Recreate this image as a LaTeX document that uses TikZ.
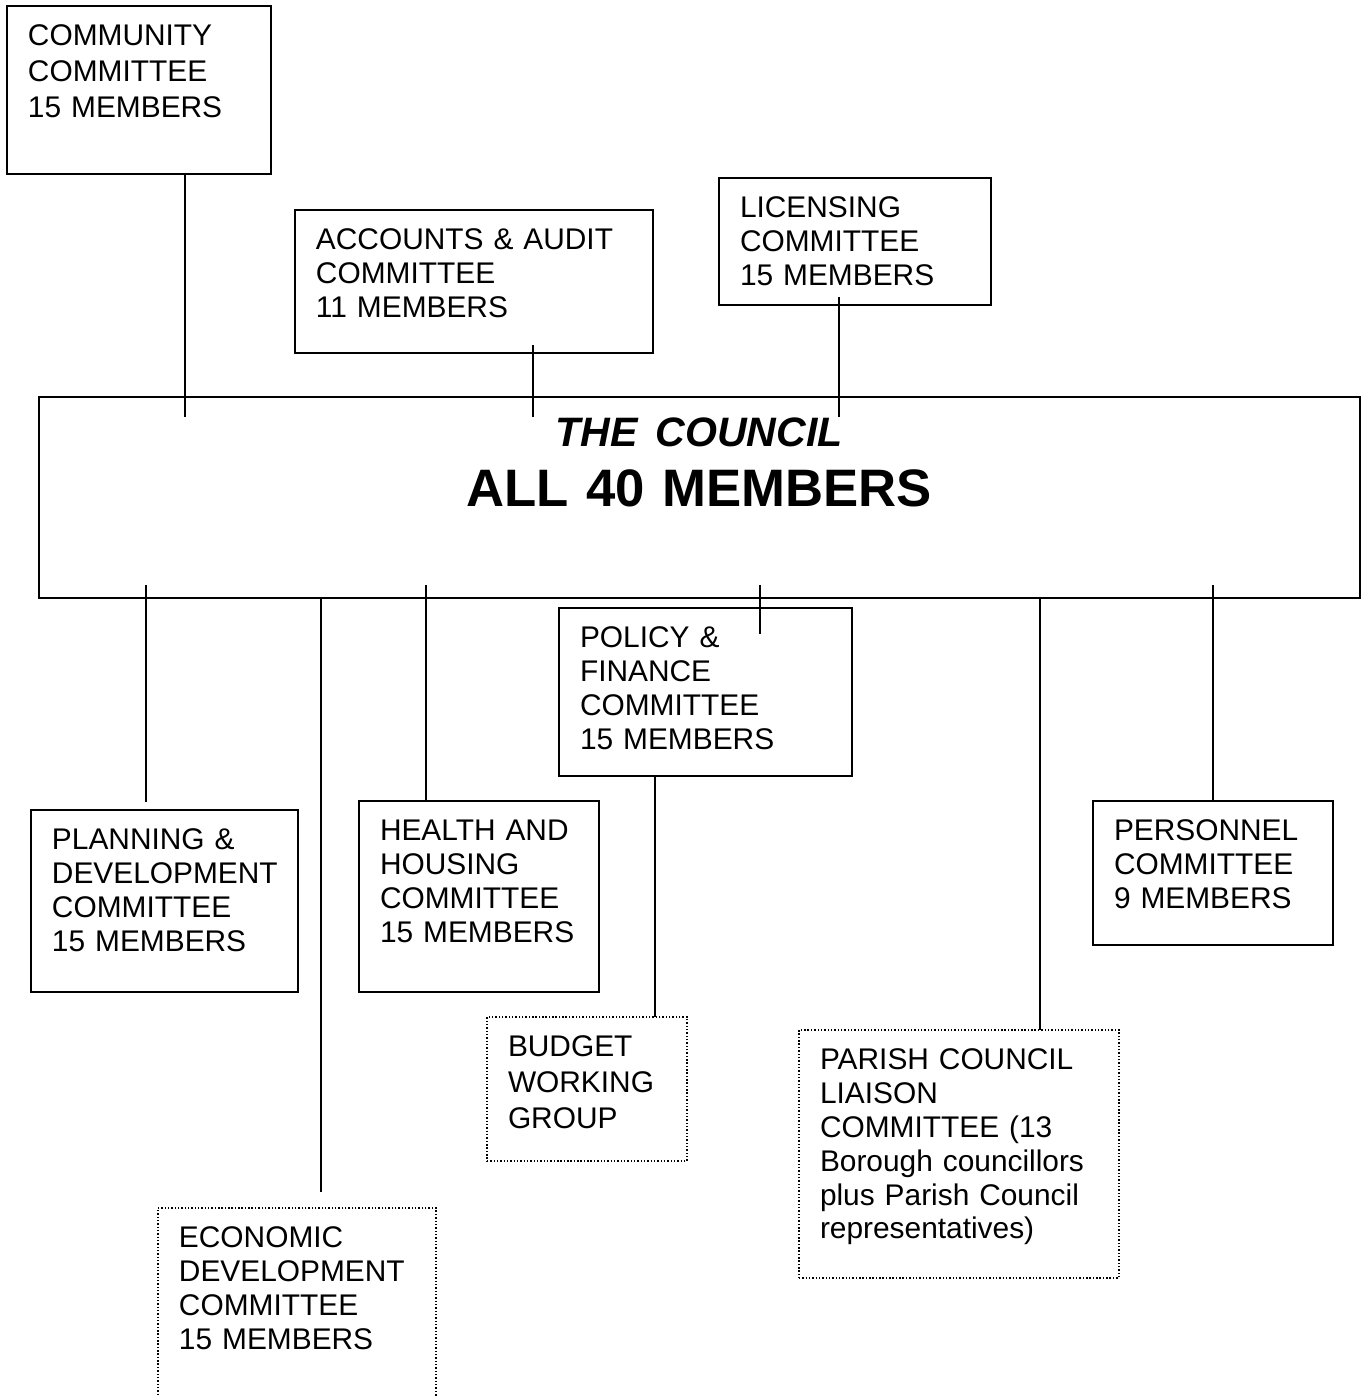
\documentclass[tikz,border=0pt]{standalone}
\usepackage{fontspec}
\setmainfont{Liberation Sans}
\usetikzlibrary{calc}
\newcommand{\ctfont}{\fontsize{17}{19.3}\selectfont\hyphenpenalty=10000}
\newcommand{\ctfontwide}{\fontsize{17}{20.5}\selectfont\hyphenpenalty=10000}
\newcommand{\councilfont}{\fontsize{30}{34}\selectfont\bfseries}
\begin{document}
\begin{tikzpicture}[x=0.02cm,y=-0.02cm]
    \tikzstyle{ctee}=[draw, line width=1.1pt, anchor=north west, outer sep=0pt, align=left, inner xsep=0.42cm, inner ysep=0pt, text height=0.788cm, font=\ctfont]
    \tikzstyle{informal}=[ctee, line width=0.9pt, dash pattern=on 0.8pt off 1.1pt]
    \tikzstyle{link}=[line width=0.75pt]
    \useasboundingbox (0,0) rectangle (1366,1396);
    % the full council
    \node[draw, line width=1.1pt, anchor=north west, outer sep=0pt, align=center, inner sep=0pt, text width=26.42cm, text height=1.0cm, text depth=3.02cm, font=\councilfont] (council) at (39,397) {{\fontsize{23.4}{34}\selectfont\itshape THE COUNCIL}\\ALL 40 MEMBERS};
    % above the council
    \node[ctee, font=\ctfontwide, text width=4.44cm, text depth=2.572cm] (comm) at (7,6) {COMMUNITY\\COMMITTEE\\15 MEMBERS};
    \node[ctee, text width=6.32cm, text depth=2.072cm] (acc) at (295,210) {ACCOUNTS \& AUDIT\\COMMITTEE\\11 MEMBERS};
    \node[ctee, text width=4.60cm, text depth=1.752cm] (lic) at (719,178) {LICENSING\\COMMITTEE\\15 MEMBERS};
    % below the council
    \node[ctee, text width=5.02cm, text depth=2.572cm] (policy) at (559,608) {POLICY \&\\FINANCE\\COMMITTEE\\15 MEMBERS};
    \node[ctee, text width=4.50cm, text depth=2.852cm] (plan) at (31,810) {PLANNING \&\\DEVELOPMENT\\COMMITTEE\\15 MEMBERS};
    \node[ctee, text width=3.96cm, text depth=3.032cm] (health) at (359,801) {HEALTH~AND\\HOUSING\\COMMITTEE\\15~MEMBERS};
    \node[ctee, text width=3.96cm, text depth=2.092cm] (pers) at (1093,801) {PERSONNEL\\COMMITTEE\\9 MEMBERS};
    \node[informal, font=\ctfontwide, text width=3.16cm, text depth=2.092cm] (budget) at (487,1017) {BUDGET\\WORKING\\GROUP};
    \node[informal, text width=4.72cm, text depth=3.212cm] (econ) at (158,1208) {ECONOMIC\\DEVELOPMENT\\COMMITTEE\\15 MEMBERS};
    \node[informal, text width=5.56cm, text depth=4.172cm] (parish) at (799,1030) {PARISH COUNCIL\\LIAISON\\COMMITTEE (13\\Borough~councillors\\plus Parish Council\\representatives)};
    % connector ends
    \coordinate (e1) at (185,417);
    \coordinate (e2) at (533,417);
    \coordinate (e3) at (839,417);
    \coordinate (e4) at (146,802);
    \coordinate (e5) at (321,1192);
    \coordinate (e6) at (426,801);
    \coordinate (e7) at (760,634);
    \coordinate (e8) at (655,1017);
    \coordinate (e9) at (1040,1030);
    \coordinate (e10) at (1213,801);
    \draw[link] (comm.south -| e1) -- (e1);
    \draw[link] ($(acc.south -| e2)+(0,-8)$) -- (e2);
    \draw[link] ($(lic.south -| e3)+(0,-8)$) -- (e3);
    \draw[link] ($(council.south -| e4)+(0,-13)$) -- (e4);
    \draw[link] (council.south -| e5) -- (e5);
    \draw[link] ($(council.south -| e6)+(0,-13)$) -- (health.north -| e6);
    \draw[link] ($(council.south -| e7)+(0,-13)$) -- (e7);
    \draw[link] (policy.south -| e8) -- (budget.north -| e8);
    \draw[link] (council.south -| e9) -- (parish.north -| e9);
    \draw[link] ($(council.south -| e10)+(0,-13)$) -- (pers.north -| e10);
\end{tikzpicture}
\end{document}
